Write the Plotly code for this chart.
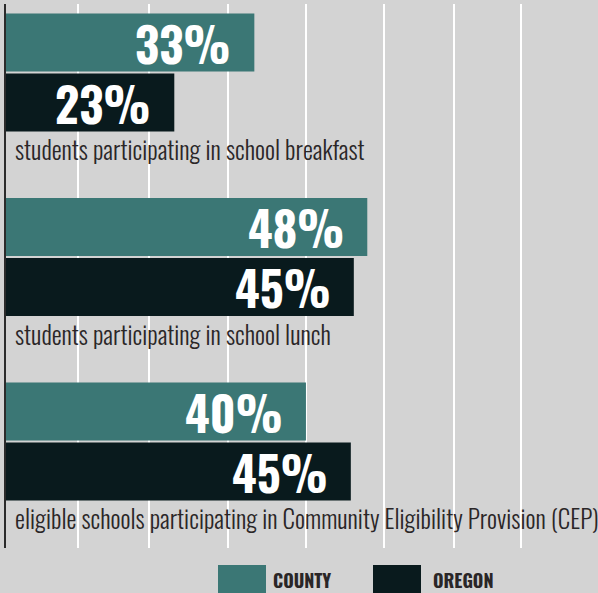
import plotly.graph_objects as go

# ---- data ----
categories = [
    "students participating in school breakfast",
    "students participating in school lunch",
    "eligible schools participating in Community Eligibility Provision (CEP)",
]
county_values = [33.2, 48.3, 40.1]
oregon_values = [22.5, 46.5, 46.1]
county_labels = ["33%", "48%", "40%"]
oregon_labels = ["23%", "45%", "45%"]
series_names = ["COUNTY", "OREGON"]

# ---- style ----
W, H = 598, 593
ML, MR, MT, MB = 6, 0, 4, 45
BG = "#d3d3d3"
TEAL = "#3b7775"
DARK = "#091a1d"
TXT = "#2a2627"
FONT = "Oswald, Roboto Condensed, DejaVu Sans Condensed, sans-serif"
PX_PER_UNIT = 7.48          # px per percentage point
GROUP_PITCH = 184.5         # px between group centres
GRID_PX = [78, 149, 228, 306, 384, 454, 521]   # gridline pixel positions (layout)
plot_w = W - ML - MR
plot_h = H - MT - MB
x_max = plot_w / PX_PER_UNIT
y_top = -(72.5 - MT) / GROUP_PITCH
y_bot = y_top + plot_h / GROUP_PITCH
bar_w = 58 / GROUP_PITCH
grid_vals = [(p - ML) / PX_PER_UNIT for p in GRID_PX]

idx = list(range(len(categories)))

fig = go.Figure()
fig.add_trace(go.Bar(
    x=county_values, y=idx, orientation="h", name=series_names[0],
    marker=dict(color=TEAL, line=dict(width=0)),
    width=bar_w, offset=-bar_w - 1 / GROUP_PITCH, showlegend=False,
    hoverinfo="skip",
))
fig.add_trace(go.Bar(
    x=oregon_values, y=idx, orientation="h", name=series_names[1],
    marker=dict(color=DARK, line=dict(width=0)),
    width=bar_w, offset=1 / GROUP_PITCH, showlegend=False,
    hoverinfo="skip",
))

annotations = []
for i, cat in enumerate(categories):
    annotations.append(dict(
        x=0, y=i, xref="x", yref="y", text=cat, showarrow=False,
        xanchor="left", yanchor="middle", xshift=7, yshift=-76,
        font=dict(family=FONT, size=25, color=TXT, weight=300),
    ))
    annotations.append(dict(
        x=county_values[i], y=i, xref="x", yref="y", text="<b>%s</b>" % county_labels[i],
        showarrow=False, xanchor="right", yanchor="middle", xshift=-21, yshift=30,
        font=dict(family=FONT, size=47, color="white"),
    ))
    annotations.append(dict(
        x=oregon_values[i], y=i, xref="x", yref="y", text="<b>%s</b>" % oregon_labels[i],
        showarrow=False, xanchor="right", yanchor="middle", xshift=-21, yshift=-30,
        font=dict(family=FONT, size=47, color="white"),
    ))


def px_x(p):
    return (p - ML) / plot_w


def px_y(p):
    return (H - MB - p) / plot_h


shapes = []
legend_items = [(series_names[0], TEAL, 218, 273), (series_names[1], DARK, 373, 433)]
for name, color, sx, tx in legend_items:
    shapes.append(dict(
        type="rect", xref="paper", yref="paper",
        x0=px_x(sx), x1=px_x(sx + 48), y0=px_y(600), y1=px_y(565),
        fillcolor=color, line=dict(width=0), layer="above",
    ))
    annotations.append(dict(
        x=px_x(tx), y=px_y(580), xref="paper", yref="paper",
        text="<b>%s</b>" % name, showarrow=False, xanchor="left", yanchor="middle",
        xshift=-2, font=dict(family=FONT, size=18, color=TXT),
    ))

fig.update_layout(
    width=W, height=H,
    margin=dict(l=ML, r=MR, t=MT, b=MB),
    paper_bgcolor=BG, plot_bgcolor=BG,
    barmode="overlay",
    xaxis=dict(range=[0, x_max], tickvals=grid_vals, showgrid=True, gridcolor="white",
               gridwidth=1.5, showticklabels=False, zeroline=False, ticks="",
               fixedrange=True),
    yaxis=dict(range=[y_bot, y_top], showgrid=False, showticklabels=False,
               zeroline=False, showline=True, linecolor="#2b2b2b", linewidth=2,
               ticks="", fixedrange=True),
    annotations=annotations,
    shapes=shapes,
    showlegend=False,
)

fig.write_html("out.html", config={"displayModeBar": False},
               post_script="document.body.style.margin='0';document.body.style.overflow='hidden';")
